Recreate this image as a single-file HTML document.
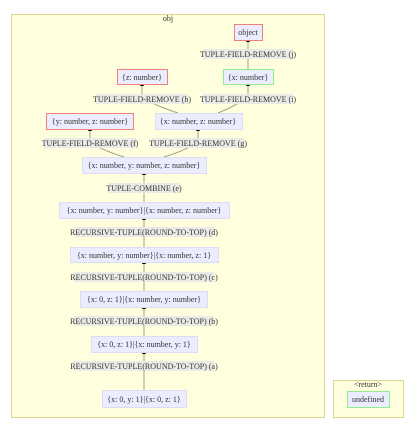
<!DOCTYPE html>
<html><head><style>
body{margin:0;background:#fff;}
text{font-family:"Liberation Serif",serif;font-size:8px;fill:#333;}
</style></head><body>
<svg width="420" height="439" viewBox="0 0 420 439" xmlns="http://www.w3.org/2000/svg">
<defs><marker id="a" markerWidth="4" markerHeight="4" refX="2" refY="2" orient="auto"><path d="M0,0L4,2L0,4z" fill="#000"/></marker></defs>
<rect x="11.5" y="14.5" width="313" height="403" fill="#ffffde" stroke="#d8d88c" stroke-width="1"/>
<rect x="333.5" y="380.5" width="70" height="37" fill="#ffffde" stroke="#d8d88c" stroke-width="1"/>
<text x="168" y="21" text-anchor="middle">obj</text>
<text x="368" y="387" text-anchor="middle">&lt;return&gt;</text>
<g stroke="#a0a090" stroke-width="1" fill="none">
<path d="M248 69V40" marker-end="url(#a)"/>
<path d="M218 113Q240 104 248 96V84" marker-end="url(#a)"/>
<path d="M178 113Q150 104 142 96V84" marker-end="url(#a)"/>
<path d="M124 157Q95 148 90 140V129" marker-end="url(#a)"/>
<path d="M164 157Q193 148 198 140V129" marker-end="url(#a)"/>
<path d="M144 202V173" marker-end="url(#a)"/>
<path d="M144 247V218" marker-end="url(#a)"/>
<path d="M144 291V262" marker-end="url(#a)"/>
<path d="M144 336V307" marker-end="url(#a)"/>
<path d="M144 390V352" marker-end="url(#a)"/>
</g>
<g fill="#e8e8e8" opacity="0.9">
<rect x="203" y="49" width="90" height="10"/>
<rect x="96" y="94" width="92" height="10"/>
<rect x="203" y="94" width="90" height="10"/>
<rect x="44" y="138" width="92" height="10"/>
<rect x="152" y="138" width="92" height="10"/>
<rect x="108" y="183" width="72" height="10"/>
<rect x="74" y="227" width="140" height="10"/>
<rect x="74" y="272" width="140" height="10"/>
<rect x="74" y="316" width="140" height="10"/>
<rect x="74" y="361" width="140" height="10"/>
</g>
<g text-anchor="middle">
<text x="248" y="57">TUPLE-FIELD-REMOVE (j)</text>
<text x="142" y="102">TUPLE-FIELD-REMOVE (h)</text>
<text x="248" y="102">TUPLE-FIELD-REMOVE (i)</text>
<text x="90" y="146">TUPLE-FIELD-REMOVE (f)</text>
<text x="198" y="146">TUPLE-FIELD-REMOVE (g)</text>
<text x="144" y="191">TUPLE-COMBINE (e)</text>
<text x="144" y="235">RECURSIVE-TUPLE(ROUND-TO-TOP) (d)</text>
<text x="144" y="280">RECURSIVE-TUPLE(ROUND-TO-TOP) (c)</text>
<text x="144" y="324">RECURSIVE-TUPLE(ROUND-TO-TOP) (b)</text>
<text x="144" y="369">RECURSIVE-TUPLE(ROUND-TO-TOP) (a)</text>
</g>
<g fill="#ececff" stroke-width="1">
<rect x="234.5" y="24.5" width="28" height="16" stroke="#f08080"/>
<rect x="223.5" y="69.5" width="50" height="15" stroke="#90ee90"/>
<rect x="117.5" y="69.5" width="50" height="15" stroke="#f08080"/>
<rect x="46.5" y="113.5" width="87" height="16" stroke="#f08080"/>
<rect x="155.5" y="113.5" width="87" height="16" stroke="#dcdcf5"/>
<rect x="82.5" y="157.5" width="124" height="16" stroke="#dcdcf5"/>
<rect x="59.5" y="202.5" width="170" height="16" stroke="#dcdcf5"/>
<rect x="70.5" y="247.5" width="148" height="15" stroke="#dcdcf5"/>
<rect x="80.5" y="291.5" width="127" height="16" stroke="#dcdcf5"/>
<rect x="91.5" y="336.5" width="106" height="16" stroke="#dcdcf5"/>
<rect x="102.5" y="390.5" width="84" height="17" stroke="#dcdcf5"/>
<rect x="347.5" y="391.5" width="42" height="16" stroke="#90ee90"/>
</g>
<g text-anchor="middle">
<text x="248" y="35">object</text>
<text x="248" y="80">{x: number}</text>
<text x="142" y="80">{z: number}</text>
<text x="90" y="124">{y: number, z: number}</text>
<text x="198" y="124">{x: number, z: number}</text>
<text x="144" y="168">{x: number, y: number, z: number}</text>
<text x="144" y="213">{x: number, y: number}|{x: number, z: number}</text>
<text x="144" y="258">{x: number, y: number}|{x: number, z: 1}</text>
<text x="144" y="302">{x: 0, z: 1}|{x: number, y: number}</text>
<text x="144" y="347">{x: 0, z: 1}|{x: number, y: 1}</text>
<text x="144" y="402">{x: 0, y: 1}|{x: 0, z: 1}</text>
<text x="368" y="402">undefined</text>
</g>
</svg>
</body></html>
